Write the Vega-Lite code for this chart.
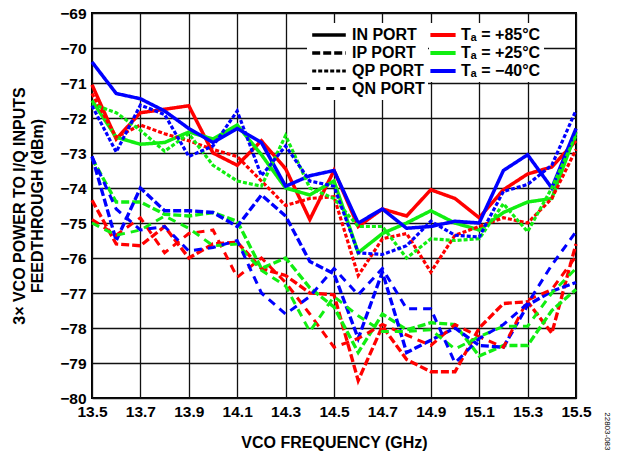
{
  "$schema": "https://vega.github.io/schema/vega-lite/v6.json",
  "width": 484,
  "height": 385,
  "autosize": {"type": "none"},
  "padding": {"left": 92, "top": 13, "right": 42, "bottom": 54},
  "background": "white",
  "config": {
    "font": "Liberation Sans",
    "view": {"stroke": "black", "strokeWidth": 2}
  },
  "title": {
    "text": "22803-083",
    "orient": "right",
    "anchor": "end",
    "fontSize": 8,
    "fontWeight": "normal",
    "color": "black",
    "offset": 12
  },
  "data": {
    "values": [
      {"freq": 13.5, "dbm": -71.05, "port": "IN PORT", "temp": "+85°C"},
      {"freq": 13.6, "dbm": -72.6, "port": "IN PORT", "temp": "+85°C"},
      {"freq": 13.7, "dbm": -71.85, "port": "IN PORT", "temp": "+85°C"},
      {"freq": 13.8, "dbm": -71.75, "port": "IN PORT", "temp": "+85°C"},
      {"freq": 13.9, "dbm": -71.65, "port": "IN PORT", "temp": "+85°C"},
      {"freq": 14.0, "dbm": -73.0, "port": "IN PORT", "temp": "+85°C"},
      {"freq": 14.1, "dbm": -73.35, "port": "IN PORT", "temp": "+85°C"},
      {"freq": 14.2, "dbm": -72.65, "port": "IN PORT", "temp": "+85°C"},
      {"freq": 14.3, "dbm": -73.45, "port": "IN PORT", "temp": "+85°C"},
      {"freq": 14.4, "dbm": -74.9, "port": "IN PORT", "temp": "+85°C"},
      {"freq": 14.5, "dbm": -73.5, "port": "IN PORT", "temp": "+85°C"},
      {"freq": 14.6, "dbm": -75.1, "port": "IN PORT", "temp": "+85°C"},
      {"freq": 14.7, "dbm": -74.6, "port": "IN PORT", "temp": "+85°C"},
      {"freq": 14.8, "dbm": -74.8, "port": "IN PORT", "temp": "+85°C"},
      {"freq": 14.9, "dbm": -74.05, "port": "IN PORT", "temp": "+85°C"},
      {"freq": 15.0, "dbm": -74.3, "port": "IN PORT", "temp": "+85°C"},
      {"freq": 15.1, "dbm": -74.85, "port": "IN PORT", "temp": "+85°C"},
      {"freq": 15.2, "dbm": -74.05, "port": "IN PORT", "temp": "+85°C"},
      {"freq": 15.3, "dbm": -73.6, "port": "IN PORT", "temp": "+85°C"},
      {"freq": 15.4, "dbm": -73.4, "port": "IN PORT", "temp": "+85°C"},
      {"freq": 15.5, "dbm": -72.65, "port": "IN PORT", "temp": "+85°C"},

      {"freq": 13.5, "dbm": -71.5, "port": "IN PORT", "temp": "+25°C"},
      {"freq": 13.6, "dbm": -72.55, "port": "IN PORT", "temp": "+25°C"},
      {"freq": 13.7, "dbm": -72.75, "port": "IN PORT", "temp": "+25°C"},
      {"freq": 13.8, "dbm": -72.7, "port": "IN PORT", "temp": "+25°C"},
      {"freq": 13.9, "dbm": -72.4, "port": "IN PORT", "temp": "+25°C"},
      {"freq": 14.0, "dbm": -72.6, "port": "IN PORT", "temp": "+25°C"},
      {"freq": 14.1, "dbm": -72.2, "port": "IN PORT", "temp": "+25°C"},
      {"freq": 14.2, "dbm": -73.05, "port": "IN PORT", "temp": "+25°C"},
      {"freq": 14.3, "dbm": -74.0, "port": "IN PORT", "temp": "+25°C"},
      {"freq": 14.4, "dbm": -74.2, "port": "IN PORT", "temp": "+25°C"},
      {"freq": 14.5, "dbm": -73.8, "port": "IN PORT", "temp": "+25°C"},
      {"freq": 14.6, "dbm": -75.85, "port": "IN PORT", "temp": "+25°C"},
      {"freq": 14.7, "dbm": -75.3, "port": "IN PORT", "temp": "+25°C"},
      {"freq": 14.8, "dbm": -75.0, "port": "IN PORT", "temp": "+25°C"},
      {"freq": 14.9, "dbm": -74.65, "port": "IN PORT", "temp": "+25°C"},
      {"freq": 15.0, "dbm": -75.0, "port": "IN PORT", "temp": "+25°C"},
      {"freq": 15.1, "dbm": -75.2, "port": "IN PORT", "temp": "+25°C"},
      {"freq": 15.2, "dbm": -74.7, "port": "IN PORT", "temp": "+25°C"},
      {"freq": 15.3, "dbm": -74.4, "port": "IN PORT", "temp": "+25°C"},
      {"freq": 15.4, "dbm": -74.3, "port": "IN PORT", "temp": "+25°C"},
      {"freq": 15.5, "dbm": -72.4, "port": "IN PORT", "temp": "+25°C"},

      {"freq": 13.5, "dbm": -70.4, "port": "IN PORT", "temp": "−40°C"},
      {"freq": 13.6, "dbm": -71.3, "port": "IN PORT", "temp": "−40°C"},
      {"freq": 13.7, "dbm": -71.45, "port": "IN PORT", "temp": "−40°C"},
      {"freq": 13.8, "dbm": -71.8, "port": "IN PORT", "temp": "−40°C"},
      {"freq": 13.9, "dbm": -72.3, "port": "IN PORT", "temp": "−40°C"},
      {"freq": 14.0, "dbm": -72.7, "port": "IN PORT", "temp": "−40°C"},
      {"freq": 14.1, "dbm": -72.3, "port": "IN PORT", "temp": "−40°C"},
      {"freq": 14.2, "dbm": -72.7, "port": "IN PORT", "temp": "−40°C"},
      {"freq": 14.3, "dbm": -73.95, "port": "IN PORT", "temp": "−40°C"},
      {"freq": 14.4, "dbm": -73.65, "port": "IN PORT", "temp": "−40°C"},
      {"freq": 14.5, "dbm": -73.5, "port": "IN PORT", "temp": "−40°C"},
      {"freq": 14.6, "dbm": -75.0, "port": "IN PORT", "temp": "−40°C"},
      {"freq": 14.7, "dbm": -74.6, "port": "IN PORT", "temp": "−40°C"},
      {"freq": 14.8, "dbm": -75.15, "port": "IN PORT", "temp": "−40°C"},
      {"freq": 14.9, "dbm": -75.1, "port": "IN PORT", "temp": "−40°C"},
      {"freq": 15.0, "dbm": -74.95, "port": "IN PORT", "temp": "−40°C"},
      {"freq": 15.1, "dbm": -75.0, "port": "IN PORT", "temp": "−40°C"},
      {"freq": 15.2, "dbm": -73.5, "port": "IN PORT", "temp": "−40°C"},
      {"freq": 15.3, "dbm": -73.05, "port": "IN PORT", "temp": "−40°C"},
      {"freq": 15.4, "dbm": -74.0, "port": "IN PORT", "temp": "−40°C"},
      {"freq": 15.5, "dbm": -72.3, "port": "IN PORT", "temp": "−40°C"},

      {"freq": 13.5, "dbm": -74.35, "port": "IP PORT", "temp": "+85°C"},
      {"freq": 13.6, "dbm": -75.6, "port": "IP PORT", "temp": "+85°C"},
      {"freq": 13.7, "dbm": -75.65, "port": "IP PORT", "temp": "+85°C"},
      {"freq": 13.8, "dbm": -75.1, "port": "IP PORT", "temp": "+85°C"},
      {"freq": 13.9, "dbm": -76.0, "port": "IP PORT", "temp": "+85°C"},
      {"freq": 14.0, "dbm": -75.6, "port": "IP PORT", "temp": "+85°C"},
      {"freq": 14.1, "dbm": -75.55, "port": "IP PORT", "temp": "+85°C"},
      {"freq": 14.2, "dbm": -76.3, "port": "IP PORT", "temp": "+85°C"},
      {"freq": 14.3, "dbm": -76.5, "port": "IP PORT", "temp": "+85°C"},
      {"freq": 14.4, "dbm": -77.0, "port": "IP PORT", "temp": "+85°C"},
      {"freq": 14.5, "dbm": -77.05, "port": "IP PORT", "temp": "+85°C"},
      {"freq": 14.6, "dbm": -79.5, "port": "IP PORT", "temp": "+85°C"},
      {"freq": 14.7, "dbm": -77.95, "port": "IP PORT", "temp": "+85°C"},
      {"freq": 14.8, "dbm": -78.9, "port": "IP PORT", "temp": "+85°C"},
      {"freq": 14.9, "dbm": -79.25, "port": "IP PORT", "temp": "+85°C"},
      {"freq": 15.0, "dbm": -79.25, "port": "IP PORT", "temp": "+85°C"},
      {"freq": 15.1, "dbm": -78.0, "port": "IP PORT", "temp": "+85°C"},
      {"freq": 15.2, "dbm": -77.3, "port": "IP PORT", "temp": "+85°C"},
      {"freq": 15.3, "dbm": -77.25, "port": "IP PORT", "temp": "+85°C"},
      {"freq": 15.4, "dbm": -78.15, "port": "IP PORT", "temp": "+85°C"},
      {"freq": 15.5, "dbm": -75.6, "port": "IP PORT", "temp": "+85°C"},

      {"freq": 13.5, "dbm": -73.15, "port": "IP PORT", "temp": "+25°C"},
      {"freq": 13.6, "dbm": -74.4, "port": "IP PORT", "temp": "+25°C"},
      {"freq": 13.7, "dbm": -74.4, "port": "IP PORT", "temp": "+25°C"},
      {"freq": 13.8, "dbm": -74.75, "port": "IP PORT", "temp": "+25°C"},
      {"freq": 13.9, "dbm": -74.8, "port": "IP PORT", "temp": "+25°C"},
      {"freq": 14.0, "dbm": -74.7, "port": "IP PORT", "temp": "+25°C"},
      {"freq": 14.1, "dbm": -74.95, "port": "IP PORT", "temp": "+25°C"},
      {"freq": 14.2, "dbm": -76.3, "port": "IP PORT", "temp": "+25°C"},
      {"freq": 14.3, "dbm": -76.0, "port": "IP PORT", "temp": "+25°C"},
      {"freq": 14.4, "dbm": -76.85, "port": "IP PORT", "temp": "+25°C"},
      {"freq": 14.5, "dbm": -77.4, "port": "IP PORT", "temp": "+25°C"},
      {"freq": 14.6, "dbm": -78.7, "port": "IP PORT", "temp": "+25°C"},
      {"freq": 14.7, "dbm": -77.6, "port": "IP PORT", "temp": "+25°C"},
      {"freq": 14.8, "dbm": -78.05, "port": "IP PORT", "temp": "+25°C"},
      {"freq": 14.9, "dbm": -77.85, "port": "IP PORT", "temp": "+25°C"},
      {"freq": 15.0, "dbm": -77.9, "port": "IP PORT", "temp": "+25°C"},
      {"freq": 15.1, "dbm": -78.8, "port": "IP PORT", "temp": "+25°C"},
      {"freq": 15.2, "dbm": -78.5, "port": "IP PORT", "temp": "+25°C"},
      {"freq": 15.3, "dbm": -78.5, "port": "IP PORT", "temp": "+25°C"},
      {"freq": 15.4, "dbm": -77.5, "port": "IP PORT", "temp": "+25°C"},
      {"freq": 15.5, "dbm": -76.9, "port": "IP PORT", "temp": "+25°C"},

      {"freq": 13.5, "dbm": -73.1, "port": "IP PORT", "temp": "−40°C"},
      {"freq": 13.6, "dbm": -75.5, "port": "IP PORT", "temp": "−40°C"},
      {"freq": 13.7, "dbm": -74.0, "port": "IP PORT", "temp": "−40°C"},
      {"freq": 13.8, "dbm": -74.65, "port": "IP PORT", "temp": "−40°C"},
      {"freq": 13.9, "dbm": -74.65, "port": "IP PORT", "temp": "−40°C"},
      {"freq": 14.0, "dbm": -74.7, "port": "IP PORT", "temp": "−40°C"},
      {"freq": 14.1, "dbm": -75.1, "port": "IP PORT", "temp": "−40°C"},
      {"freq": 14.2, "dbm": -74.2, "port": "IP PORT", "temp": "−40°C"},
      {"freq": 14.3, "dbm": -74.8, "port": "IP PORT", "temp": "−40°C"},
      {"freq": 14.4, "dbm": -76.1, "port": "IP PORT", "temp": "−40°C"},
      {"freq": 14.5, "dbm": -76.45, "port": "IP PORT", "temp": "−40°C"},
      {"freq": 14.6, "dbm": -78.3, "port": "IP PORT", "temp": "−40°C"},
      {"freq": 14.7, "dbm": -76.4, "port": "IP PORT", "temp": "−40°C"},
      {"freq": 14.8, "dbm": -78.7, "port": "IP PORT", "temp": "−40°C"},
      {"freq": 14.9, "dbm": -78.35, "port": "IP PORT", "temp": "−40°C"},
      {"freq": 15.0, "dbm": -78.0, "port": "IP PORT", "temp": "−40°C"},
      {"freq": 15.1, "dbm": -78.5, "port": "IP PORT", "temp": "−40°C"},
      {"freq": 15.2, "dbm": -78.55, "port": "IP PORT", "temp": "−40°C"},
      {"freq": 15.3, "dbm": -77.35, "port": "IP PORT", "temp": "−40°C"},
      {"freq": 15.4, "dbm": -76.95, "port": "IP PORT", "temp": "−40°C"},
      {"freq": 15.5, "dbm": -76.7, "port": "IP PORT", "temp": "−40°C"},

      {"freq": 13.5, "dbm": -71.3, "port": "QP PORT", "temp": "+85°C"},
      {"freq": 13.6, "dbm": -72.55, "port": "QP PORT", "temp": "+85°C"},
      {"freq": 13.7, "dbm": -72.2, "port": "QP PORT", "temp": "+85°C"},
      {"freq": 13.8, "dbm": -72.45, "port": "QP PORT", "temp": "+85°C"},
      {"freq": 13.9, "dbm": -72.65, "port": "QP PORT", "temp": "+85°C"},
      {"freq": 14.0, "dbm": -72.9, "port": "QP PORT", "temp": "+85°C"},
      {"freq": 14.1, "dbm": -73.1, "port": "QP PORT", "temp": "+85°C"},
      {"freq": 14.2, "dbm": -73.8, "port": "QP PORT", "temp": "+85°C"},
      {"freq": 14.3, "dbm": -74.5, "port": "QP PORT", "temp": "+85°C"},
      {"freq": 14.4, "dbm": -74.3, "port": "QP PORT", "temp": "+85°C"},
      {"freq": 14.5, "dbm": -74.25, "port": "QP PORT", "temp": "+85°C"},
      {"freq": 14.6, "dbm": -76.5, "port": "QP PORT", "temp": "+85°C"},
      {"freq": 14.7, "dbm": -75.45, "port": "QP PORT", "temp": "+85°C"},
      {"freq": 14.8, "dbm": -75.3, "port": "QP PORT", "temp": "+85°C"},
      {"freq": 14.9, "dbm": -76.4, "port": "QP PORT", "temp": "+85°C"},
      {"freq": 15.0, "dbm": -75.35, "port": "QP PORT", "temp": "+85°C"},
      {"freq": 15.1, "dbm": -75.1, "port": "QP PORT", "temp": "+85°C"},
      {"freq": 15.2, "dbm": -74.85, "port": "QP PORT", "temp": "+85°C"},
      {"freq": 15.3, "dbm": -75.0, "port": "QP PORT", "temp": "+85°C"},
      {"freq": 15.4, "dbm": -74.3, "port": "QP PORT", "temp": "+85°C"},
      {"freq": 15.5, "dbm": -72.9, "port": "QP PORT", "temp": "+85°C"},

      {"freq": 13.5, "dbm": -71.6, "port": "QP PORT", "temp": "+25°C"},
      {"freq": 13.6, "dbm": -71.85, "port": "QP PORT", "temp": "+25°C"},
      {"freq": 13.7, "dbm": -72.35, "port": "QP PORT", "temp": "+25°C"},
      {"freq": 13.8, "dbm": -72.95, "port": "QP PORT", "temp": "+25°C"},
      {"freq": 13.9, "dbm": -72.45, "port": "QP PORT", "temp": "+25°C"},
      {"freq": 14.0, "dbm": -73.35, "port": "QP PORT", "temp": "+25°C"},
      {"freq": 14.1, "dbm": -73.8, "port": "QP PORT", "temp": "+25°C"},
      {"freq": 14.2, "dbm": -73.95, "port": "QP PORT", "temp": "+25°C"},
      {"freq": 14.3, "dbm": -72.5, "port": "QP PORT", "temp": "+25°C"},
      {"freq": 14.4, "dbm": -74.0, "port": "QP PORT", "temp": "+25°C"},
      {"freq": 14.5, "dbm": -74.3, "port": "QP PORT", "temp": "+25°C"},
      {"freq": 14.6, "dbm": -75.1, "port": "QP PORT", "temp": "+25°C"},
      {"freq": 14.7, "dbm": -75.1, "port": "QP PORT", "temp": "+25°C"},
      {"freq": 14.8, "dbm": -76.0, "port": "QP PORT", "temp": "+25°C"},
      {"freq": 14.9, "dbm": -75.45, "port": "QP PORT", "temp": "+25°C"},
      {"freq": 15.0, "dbm": -75.5, "port": "QP PORT", "temp": "+25°C"},
      {"freq": 15.1, "dbm": -75.45, "port": "QP PORT", "temp": "+25°C"},
      {"freq": 15.2, "dbm": -74.45, "port": "QP PORT", "temp": "+25°C"},
      {"freq": 15.3, "dbm": -75.25, "port": "QP PORT", "temp": "+25°C"},
      {"freq": 15.4, "dbm": -74.0, "port": "QP PORT", "temp": "+25°C"},
      {"freq": 15.5, "dbm": -72.5, "port": "QP PORT", "temp": "+25°C"},

      {"freq": 13.5, "dbm": -71.65, "port": "QP PORT", "temp": "−40°C"},
      {"freq": 13.6, "dbm": -72.97, "port": "QP PORT", "temp": "−40°C"},
      {"freq": 13.7, "dbm": -71.63, "port": "QP PORT", "temp": "−40°C"},
      {"freq": 13.8, "dbm": -71.9, "port": "QP PORT", "temp": "−40°C"},
      {"freq": 13.9, "dbm": -73.1, "port": "QP PORT", "temp": "−40°C"},
      {"freq": 14.0, "dbm": -72.8, "port": "QP PORT", "temp": "−40°C"},
      {"freq": 14.1, "dbm": -71.8, "port": "QP PORT", "temp": "−40°C"},
      {"freq": 14.2, "dbm": -73.65, "port": "QP PORT", "temp": "−40°C"},
      {"freq": 14.3, "dbm": -72.8, "port": "QP PORT", "temp": "−40°C"},
      {"freq": 14.4, "dbm": -73.8, "port": "QP PORT", "temp": "−40°C"},
      {"freq": 14.5, "dbm": -73.95, "port": "QP PORT", "temp": "−40°C"},
      {"freq": 14.6, "dbm": -75.85, "port": "QP PORT", "temp": "−40°C"},
      {"freq": 14.7, "dbm": -75.9, "port": "QP PORT", "temp": "−40°C"},
      {"freq": 14.8, "dbm": -75.65, "port": "QP PORT", "temp": "−40°C"},
      {"freq": 14.9, "dbm": -74.95, "port": "QP PORT", "temp": "−40°C"},
      {"freq": 15.0, "dbm": -75.35, "port": "QP PORT", "temp": "−40°C"},
      {"freq": 15.1, "dbm": -75.4, "port": "QP PORT", "temp": "−40°C"},
      {"freq": 15.2, "dbm": -74.1, "port": "QP PORT", "temp": "−40°C"},
      {"freq": 15.3, "dbm": -73.9, "port": "QP PORT", "temp": "−40°C"},
      {"freq": 15.4, "dbm": -73.35, "port": "QP PORT", "temp": "−40°C"},
      {"freq": 15.5, "dbm": -71.78, "port": "QP PORT", "temp": "−40°C"},

      {"freq": 13.5, "dbm": -74.9, "port": "QN PORT", "temp": "+85°C"},
      {"freq": 13.6, "dbm": -75.35, "port": "QN PORT", "temp": "+85°C"},
      {"freq": 13.7, "dbm": -74.85, "port": "QN PORT", "temp": "+85°C"},
      {"freq": 13.8, "dbm": -75.85, "port": "QN PORT", "temp": "+85°C"},
      {"freq": 13.9, "dbm": -75.3, "port": "QN PORT", "temp": "+85°C"},
      {"freq": 14.0, "dbm": -75.2, "port": "QN PORT", "temp": "+85°C"},
      {"freq": 14.1, "dbm": -76.55, "port": "QN PORT", "temp": "+85°C"},
      {"freq": 14.2, "dbm": -76.0, "port": "QN PORT", "temp": "+85°C"},
      {"freq": 14.3, "dbm": -76.7, "port": "QN PORT", "temp": "+85°C"},
      {"freq": 14.4, "dbm": -77.6, "port": "QN PORT", "temp": "+85°C"},
      {"freq": 14.5, "dbm": -78.55, "port": "QN PORT", "temp": "+85°C"},
      {"freq": 14.6, "dbm": -78.3, "port": "QN PORT", "temp": "+85°C"},
      {"freq": 14.7, "dbm": -77.9, "port": "QN PORT", "temp": "+85°C"},
      {"freq": 14.8, "dbm": -78.2, "port": "QN PORT", "temp": "+85°C"},
      {"freq": 14.9, "dbm": -78.5, "port": "QN PORT", "temp": "+85°C"},
      {"freq": 15.0, "dbm": -77.9, "port": "QN PORT", "temp": "+85°C"},
      {"freq": 15.1, "dbm": -78.25, "port": "QN PORT", "temp": "+85°C"},
      {"freq": 15.2, "dbm": -78.55, "port": "QN PORT", "temp": "+85°C"},
      {"freq": 15.3, "dbm": -77.2, "port": "QN PORT", "temp": "+85°C"},
      {"freq": 15.4, "dbm": -76.9, "port": "QN PORT", "temp": "+85°C"},
      {"freq": 15.5, "dbm": -75.95, "port": "QN PORT", "temp": "+85°C"},

      {"freq": 13.5, "dbm": -75.0, "port": "QN PORT", "temp": "+25°C"},
      {"freq": 13.6, "dbm": -75.35, "port": "QN PORT", "temp": "+25°C"},
      {"freq": 13.7, "dbm": -75.2, "port": "QN PORT", "temp": "+25°C"},
      {"freq": 13.8, "dbm": -74.8, "port": "QN PORT", "temp": "+25°C"},
      {"freq": 13.9, "dbm": -75.15, "port": "QN PORT", "temp": "+25°C"},
      {"freq": 14.0, "dbm": -75.65, "port": "QN PORT", "temp": "+25°C"},
      {"freq": 14.1, "dbm": -75.6, "port": "QN PORT", "temp": "+25°C"},
      {"freq": 14.2, "dbm": -76.35, "port": "QN PORT", "temp": "+25°C"},
      {"freq": 14.3, "dbm": -76.8, "port": "QN PORT", "temp": "+25°C"},
      {"freq": 14.4, "dbm": -78.1, "port": "QN PORT", "temp": "+25°C"},
      {"freq": 14.5, "dbm": -77.1, "port": "QN PORT", "temp": "+25°C"},
      {"freq": 14.6, "dbm": -77.65, "port": "QN PORT", "temp": "+25°C"},
      {"freq": 14.7, "dbm": -78.1, "port": "QN PORT", "temp": "+25°C"},
      {"freq": 14.8, "dbm": -78.1, "port": "QN PORT", "temp": "+25°C"},
      {"freq": 14.9, "dbm": -78.05, "port": "QN PORT", "temp": "+25°C"},
      {"freq": 15.0, "dbm": -78.6, "port": "QN PORT", "temp": "+25°C"},
      {"freq": 15.1, "dbm": -78.25, "port": "QN PORT", "temp": "+25°C"},
      {"freq": 15.2, "dbm": -77.95, "port": "QN PORT", "temp": "+25°C"},
      {"freq": 15.3, "dbm": -77.95, "port": "QN PORT", "temp": "+25°C"},
      {"freq": 15.4, "dbm": -77.0, "port": "QN PORT", "temp": "+25°C"},
      {"freq": 15.5, "dbm": -76.3, "port": "QN PORT", "temp": "+25°C"},

      {"freq": 13.5, "dbm": -73.1, "port": "QN PORT", "temp": "−40°C"},
      {"freq": 13.6, "dbm": -74.6, "port": "QN PORT", "temp": "−40°C"},
      {"freq": 13.7, "dbm": -75.2, "port": "QN PORT", "temp": "−40°C"},
      {"freq": 13.8, "dbm": -75.1, "port": "QN PORT", "temp": "−40°C"},
      {"freq": 13.9, "dbm": -75.8, "port": "QN PORT", "temp": "−40°C"},
      {"freq": 14.0, "dbm": -75.7, "port": "QN PORT", "temp": "−40°C"},
      {"freq": 14.1, "dbm": -75.5, "port": "QN PORT", "temp": "−40°C"},
      {"freq": 14.2, "dbm": -77.0, "port": "QN PORT", "temp": "−40°C"},
      {"freq": 14.3, "dbm": -77.6, "port": "QN PORT", "temp": "−40°C"},
      {"freq": 14.4, "dbm": -77.1, "port": "QN PORT", "temp": "−40°C"},
      {"freq": 14.5, "dbm": -76.3, "port": "QN PORT", "temp": "−40°C"},
      {"freq": 14.6, "dbm": -77.05, "port": "QN PORT", "temp": "−40°C"},
      {"freq": 14.7, "dbm": -76.3, "port": "QN PORT", "temp": "−40°C"},
      {"freq": 14.8, "dbm": -77.45, "port": "QN PORT", "temp": "−40°C"},
      {"freq": 14.9, "dbm": -77.45, "port": "QN PORT", "temp": "−40°C"},
      {"freq": 15.0, "dbm": -79.0, "port": "QN PORT", "temp": "−40°C"},
      {"freq": 15.1, "dbm": -78.3, "port": "QN PORT", "temp": "−40°C"},
      {"freq": 15.2, "dbm": -77.9, "port": "QN PORT", "temp": "−40°C"},
      {"freq": 15.3, "dbm": -77.3, "port": "QN PORT", "temp": "−40°C"},
      {"freq": 15.4, "dbm": -76.2, "port": "QN PORT", "temp": "−40°C"},
      {"freq": 15.5, "dbm": -75.25, "port": "QN PORT", "temp": "−40°C"}
    ]
  },
  "mark": {"type": "line", "strokeCap": "butt", "strokeJoin": "miter"},
  "encoding": {
    "x": {
      "field": "freq",
      "type": "quantitative",
      "scale": {"domain": [13.5, 15.5], "nice": false, "zero": false},
      "axis": {
        "values": [13.5, 13.7, 13.9, 14.1, 14.3, 14.5, 14.7, 14.9, 15.1, 15.3, 15.5],
        "format": ".1f",
        "title": "VCO FREQUENCY (GHz)",
        "grid": true,
        "gridColor": "#111111",
        "gridWidth": 1.3,
        "gridOpacity": 1,
        "domain": false,
        "ticks": false,
        "labelFlush": false,
        "labelPadding": 6,
        "labelFontSize": 15.5,
        "labelFontWeight": "bold",
        "labelColor": "black",
        "titleFontSize": 16,
        "titleFontWeight": "bold",
        "titleColor": "black",
        "titlePadding": 15
      }
    },
    "y": {
      "field": "dbm",
      "type": "quantitative",
      "scale": {"domain": [-80, -69], "nice": false, "zero": false},
      "axis": {
        "values": [-80, -79, -78, -77, -76, -75, -74, -73, -72, -71, -70, -69],
        "format": "d",
        "title": ["3× VCO POWER TO I/Q INPUTS", "FEEDTHROUGH (dBm)"],
        "grid": true,
        "gridColor": "#111111",
        "gridWidth": 1.3,
        "gridOpacity": 1,
        "domain": false,
        "ticks": false,
        "labelFlush": false,
        "labelPadding": 6,
        "labelFontSize": 15.5,
        "labelFontWeight": "bold",
        "labelColor": "black",
        "titleFontSize": 16,
        "titleFontWeight": "bold",
        "titleColor": "black",
        "titleLineHeight": 18,
        "titlePadding": 14
      }
    },
    "color": {
      "field": "temp",
      "type": "nominal",
      "scale": {
        "domain": ["+85°C", "+25°C", "−40°C"],
        "range": ["#ff0000", "#11ee11", "#0000ff"]
      },
      "legend": {
        "orient": "none",
        "legendX": 337,
        "legendY": 10,
        "title": null,
        "fillColor": "white",
        "padding": 3,
        "symbolType": "M-1.8,0H1.8",
        "symbolSize": 196,
        "symbolOffset": 2,
        "symbolFillColor": "transparent",
        "symbolStrokeWidth": 4,
        "labelOffset": 9,
        "labelExpr": "'Tₐ = ' + datum.label",
        "labelFontSize": 16,
        "labelFontWeight": "bold",
        "labelColor": "black",
        "rowPadding": 1
      }
    },
    "strokeDash": {
      "field": "port",
      "type": "nominal",
      "scale": {
        "domain": ["IN PORT", "IP PORT", "QP PORT", "QN PORT"],
        "range": [[1, 0], [8, 3], [4, 2], [8, 6]]
      },
      "legend": {
        "orient": "none",
        "legendX": 215,
        "legendY": 10,
        "title": null,
        "fillColor": "white",
        "padding": 3,
        "symbolType": "M-2.4,0H2.4",
        "symbolSize": 196,
        "symbolOffset": 10,
        "symbolFillColor": "transparent",
        "symbolStrokeWidth": 4,
        "symbolStrokeColor": "black",
        "labelOffset": 14,
        "labelFontSize": 16,
        "labelFontWeight": "bold",
        "labelColor": "black",
        "rowPadding": 1
      }
    },
    "strokeWidth": {
      "field": "port",
      "type": "nominal",
      "scale": {
        "domain": ["IN PORT", "IP PORT", "QP PORT", "QN PORT"],
        "range": [3.5, 3, 3, 2.2]
      },
      "legend": null
    }
  }
}
